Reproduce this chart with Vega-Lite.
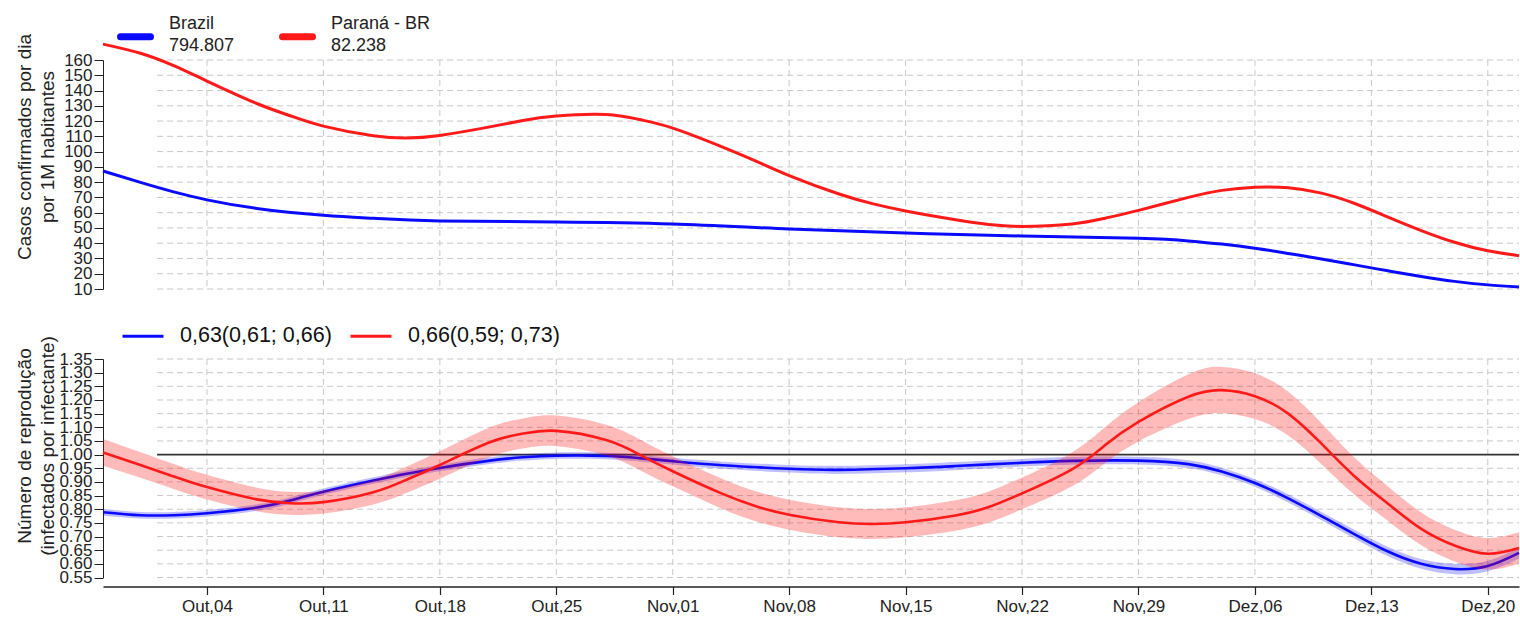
{
  "$schema": "https://vega.github.io/schema/vega-lite/v6.json",
  "background": "white",
  "padding": {"left": 15, "top": 18, "right": 0, "bottom": 0},
  "config": {
    "view": {"stroke": null},
    "font": "Liberation Sans",
    "axis": {"grid": false},
    "axisY": {
      "labelFontSize": 17, "labelColor": "#222",
      "tickSize": 9, "tickColor": "#222", "domainColor": "#222", "labelPadding": 2,
      "titleFontSize": 19, "titleFontWeight": "normal", "titleColor": "#222",
      "titleX": -79, "titleY": 86.5, "titleAngle": 270, "titleAlign": "center", "titleBaseline": "middle",
      "titleLineHeight": 23
    },
    "axisX": {
      "labelPadding": 4, "labelFontSize": 17, "labelColor": "#222",
      "tickColor": "#222", "domainColor": "#222", "labelFlush": false
    }
  },
  "bounds": "flush",
  "spacing": 70,
  "resolve": {"scale": {"color": "independent", "y": "independent"}, "legend": {"color": "independent"}},
  "datasets": {
    "ticks": [
      {"d": "2020-10-04"}, {"d": "2020-10-11"}, {"d": "2020-10-18"}, {"d": "2020-10-25"},
      {"d": "2020-11-01"}, {"d": "2020-11-08"}, {"d": "2020-11-15"}, {"d": "2020-11-22"},
      {"d": "2020-11-29"}, {"d": "2020-12-06"}, {"d": "2020-12-13"}, {"d": "2020-12-20"}
    ],
    "gtop": [
      {"g": 10}, {"g": 20}, {"g": 30}, {"g": 40}, {"g": 50}, {"g": 60}, {"g": 70}, {"g": 80},
      {"g": 90}, {"g": 100}, {"g": 110}, {"g": 120}, {"g": 130}, {"g": 140}, {"g": 150}, {"g": 160}
    ],
    "gbot": [
      {"g": 0.55}, {"g": 0.6}, {"g": 0.65}, {"g": 0.7}, {"g": 0.75}, {"g": 0.8}, {"g": 0.85}, {"g": 0.9},
      {"g": 0.95}, {"g": 1.05}, {"g": 1.1}, {"g": 1.15}, {"g": 1.2}, {"g": 1.25}, {"g": 1.3}, {"g": 1.35}
    ],
    "top": [
      {"date": "2020-09-27T18:00:00Z", "local": "Brazil", "v": 87.3},
      {"date": "2020-09-30", "local": "Brazil", "v": 79.8},
      {"date": "2020-10-02", "local": "Brazil", "v": 73.6},
      {"date": "2020-10-04", "local": "Brazil", "v": 68.4},
      {"date": "2020-10-07", "local": "Brazil", "v": 62.8},
      {"date": "2020-10-11", "local": "Brazil", "v": 58.3},
      {"date": "2020-10-14", "local": "Brazil", "v": 56.3},
      {"date": "2020-10-18", "local": "Brazil", "v": 54.6},
      {"date": "2020-10-25", "local": "Brazil", "v": 53.9},
      {"date": "2020-11-01", "local": "Brazil", "v": 52.6},
      {"date": "2020-11-08", "local": "Brazil", "v": 49.3},
      {"date": "2020-11-15", "local": "Brazil", "v": 46.7},
      {"date": "2020-11-22", "local": "Brazil", "v": 44.7},
      {"date": "2020-11-29", "local": "Brazil", "v": 43.2},
      {"date": "2020-12-02", "local": "Brazil", "v": 41.5},
      {"date": "2020-12-04", "local": "Brazil", "v": 39.4},
      {"date": "2020-12-06", "local": "Brazil", "v": 36.7},
      {"date": "2020-12-08", "local": "Brazil", "v": 33.3},
      {"date": "2020-12-10", "local": "Brazil", "v": 29.7},
      {"date": "2020-12-12", "local": "Brazil", "v": 25.8},
      {"date": "2020-12-14", "local": "Brazil", "v": 21.9},
      {"date": "2020-12-16", "local": "Brazil", "v": 18.2},
      {"date": "2020-12-18", "local": "Brazil", "v": 15},
      {"date": "2020-12-20", "local": "Brazil", "v": 12.7},
      {"date": "2020-12-21T21:00:00Z", "local": "Brazil", "v": 11.3},
      {"date": "2020-09-27T18:00:00Z", "local": "Paraná - BR", "v": 170.4},
      {"date": "2020-09-30", "local": "Paraná - BR", "v": 164.4},
      {"date": "2020-10-02", "local": "Paraná - BR", "v": 156.3},
      {"date": "2020-10-04", "local": "Paraná - BR", "v": 146.2},
      {"date": "2020-10-07", "local": "Paraná - BR", "v": 131.5},
      {"date": "2020-10-09", "local": "Paraná - BR", "v": 123.5},
      {"date": "2020-10-11", "local": "Paraná - BR", "v": 116.7},
      {"date": "2020-10-14", "local": "Paraná - BR", "v": 110.4},
      {"date": "2020-10-16", "local": "Paraná - BR", "v": 108.9},
      {"date": "2020-10-18", "local": "Paraná - BR", "v": 110.6},
      {"date": "2020-10-21", "local": "Paraná - BR", "v": 116.2},
      {"date": "2020-10-23", "local": "Paraná - BR", "v": 120.4},
      {"date": "2020-10-25", "local": "Paraná - BR", "v": 123.3},
      {"date": "2020-10-28", "local": "Paraná - BR", "v": 124.3},
      {"date": "2020-10-30", "local": "Paraná - BR", "v": 121.0},
      {"date": "2020-11-01", "local": "Paraná - BR", "v": 115.4},
      {"date": "2020-11-04", "local": "Paraná - BR", "v": 103},
      {"date": "2020-11-06", "local": "Paraná - BR", "v": 93.8},
      {"date": "2020-11-08", "local": "Paraná - BR", "v": 84.3},
      {"date": "2020-11-11", "local": "Paraná - BR", "v": 72.2},
      {"date": "2020-11-13", "local": "Paraná - BR", "v": 65.9},
      {"date": "2020-11-15", "local": "Paraná - BR", "v": 61.1},
      {"date": "2020-11-18", "local": "Paraná - BR", "v": 55.4},
      {"date": "2020-11-20", "local": "Paraná - BR", "v": 52.3},
      {"date": "2020-11-22", "local": "Paraná - BR", "v": 51},
      {"date": "2020-11-25", "local": "Paraná - BR", "v": 52.6},
      {"date": "2020-11-27", "local": "Paraná - BR", "v": 56.4},
      {"date": "2020-11-29", "local": "Paraná - BR", "v": 61.5},
      {"date": "2020-12-02", "local": "Paraná - BR", "v": 70.0},
      {"date": "2020-12-04", "local": "Paraná - BR", "v": 74.6},
      {"date": "2020-12-06", "local": "Paraná - BR", "v": 76.7},
      {"date": "2020-12-08", "local": "Paraná - BR", "v": 76.3},
      {"date": "2020-12-10", "local": "Paraná - BR", "v": 72.8},
      {"date": "2020-12-12", "local": "Paraná - BR", "v": 66},
      {"date": "2020-12-14", "local": "Paraná - BR", "v": 57.1},
      {"date": "2020-12-16", "local": "Paraná - BR", "v": 48.3},
      {"date": "2020-12-18", "local": "Paraná - BR", "v": 40.6},
      {"date": "2020-12-20", "local": "Paraná - BR", "v": 35.0},
      {"date": "2020-12-21T21:00:00Z", "local": "Paraná - BR", "v": 31.8}
    ],
    "rt": [
      {"date": "2020-09-27T18:00:00Z", "local": "Brazil", "r": 0.789, "lo": 0.776, "hi": 0.802},
      {"date": "2020-09-30", "local": "Brazil", "r": 0.778, "lo": 0.766, "hi": 0.79},
      {"date": "2020-10-02", "local": "Brazil", "r": 0.778, "lo": 0.766, "hi": 0.79},
      {"date": "2020-10-04", "local": "Brazil", "r": 0.785, "lo": 0.773, "hi": 0.797},
      {"date": "2020-10-07", "local": "Brazil", "r": 0.806, "lo": 0.794, "hi": 0.818},
      {"date": "2020-10-09", "local": "Brazil", "r": 0.832, "lo": 0.82, "hi": 0.844},
      {"date": "2020-10-11", "local": "Brazil", "r": 0.864, "lo": 0.852, "hi": 0.876},
      {"date": "2020-10-14", "local": "Brazil", "r": 0.905, "lo": 0.893, "hi": 0.917},
      {"date": "2020-10-16", "local": "Brazil", "r": 0.93, "lo": 0.918, "hi": 0.942},
      {"date": "2020-10-18", "local": "Brazil", "r": 0.951, "lo": 0.939, "hi": 0.963},
      {"date": "2020-10-21", "local": "Brazil", "r": 0.978, "lo": 0.966, "hi": 0.99},
      {"date": "2020-10-23", "local": "Brazil", "r": 0.99, "lo": 0.978, "hi": 1.002},
      {"date": "2020-10-25", "local": "Brazil", "r": 0.996, "lo": 0.984, "hi": 1.008},
      {"date": "2020-10-28", "local": "Brazil", "r": 0.995, "lo": 0.983, "hi": 1.007},
      {"date": "2020-10-30", "local": "Brazil", "r": 0.987, "lo": 0.975, "hi": 0.999},
      {"date": "2020-11-01", "local": "Brazil", "r": 0.976, "lo": 0.964, "hi": 0.988},
      {"date": "2020-11-04", "local": "Brazil", "r": 0.961, "lo": 0.948, "hi": 0.974},
      {"date": "2020-11-08", "local": "Brazil", "r": 0.948, "lo": 0.934, "hi": 0.962},
      {"date": "2020-11-11", "local": "Brazil", "r": 0.944, "lo": 0.929, "hi": 0.959},
      {"date": "2020-11-15", "local": "Brazil", "r": 0.95, "lo": 0.935, "hi": 0.965},
      {"date": "2020-11-18", "local": "Brazil", "r": 0.958, "lo": 0.943, "hi": 0.973},
      {"date": "2020-11-22", "local": "Brazil", "r": 0.97, "lo": 0.956, "hi": 0.984},
      {"date": "2020-11-25", "local": "Brazil", "r": 0.977, "lo": 0.963, "hi": 0.991},
      {"date": "2020-11-29", "local": "Brazil", "r": 0.978, "lo": 0.964, "hi": 0.992},
      {"date": "2020-12-02", "local": "Brazil", "r": 0.965, "lo": 0.951, "hi": 0.979},
      {"date": "2020-12-04", "local": "Brazil", "r": 0.938, "lo": 0.924, "hi": 0.952},
      {"date": "2020-12-06", "local": "Brazil", "r": 0.896, "lo": 0.882, "hi": 0.91},
      {"date": "2020-12-08", "local": "Brazil", "r": 0.84, "lo": 0.825, "hi": 0.855},
      {"date": "2020-12-10", "local": "Brazil", "r": 0.775, "lo": 0.76, "hi": 0.79},
      {"date": "2020-12-12", "local": "Brazil", "r": 0.708, "lo": 0.692, "hi": 0.724},
      {"date": "2020-12-14", "local": "Brazil", "r": 0.645, "lo": 0.628, "hi": 0.662},
      {"date": "2020-12-16", "local": "Brazil", "r": 0.6, "lo": 0.582, "hi": 0.618},
      {"date": "2020-12-18", "local": "Brazil", "r": 0.581, "lo": 0.562, "hi": 0.6},
      {"date": "2020-12-20", "local": "Brazil", "r": 0.592, "lo": 0.573, "hi": 0.611},
      {"date": "2020-12-21T21:00:00Z", "local": "Brazil", "r": 0.64, "lo": 0.62, "hi": 0.66},
      {"date": "2020-09-27T18:00:00Z", "local": "Paraná - BR", "r": 1.008, "lo": 0.959, "hi": 1.057},
      {"date": "2020-09-30", "local": "Paraná - BR", "r": 0.962, "lo": 0.915, "hi": 1.009},
      {"date": "2020-10-02", "local": "Paraná - BR", "r": 0.92, "lo": 0.874, "hi": 0.966},
      {"date": "2020-10-04", "local": "Paraná - BR", "r": 0.881, "lo": 0.836, "hi": 0.926},
      {"date": "2020-10-07", "local": "Paraná - BR", "r": 0.836, "lo": 0.793, "hi": 0.879},
      {"date": "2020-10-09", "local": "Paraná - BR", "r": 0.822, "lo": 0.78, "hi": 0.864},
      {"date": "2020-10-11", "local": "Paraná - BR", "r": 0.826, "lo": 0.784, "hi": 0.868},
      {"date": "2020-10-14", "local": "Paraná - BR", "r": 0.862, "lo": 0.817, "hi": 0.907},
      {"date": "2020-10-16", "local": "Paraná - BR", "r": 0.908, "lo": 0.86, "hi": 0.956},
      {"date": "2020-10-18", "local": "Paraná - BR", "r": 0.962, "lo": 0.912, "hi": 1.012},
      {"date": "2020-10-21", "local": "Paraná - BR", "r": 1.045, "lo": 0.991, "hi": 1.099},
      {"date": "2020-10-23", "local": "Paraná - BR", "r": 1.077, "lo": 1.022, "hi": 1.132},
      {"date": "2020-10-25", "local": "Paraná - BR", "r": 1.087, "lo": 1.031, "hi": 1.143},
      {"date": "2020-10-28", "local": "Paraná - BR", "r": 1.053, "lo": 0.997, "hi": 1.109},
      {"date": "2020-10-30", "local": "Paraná - BR", "r": 1.0, "lo": 0.944, "hi": 1.056},
      {"date": "2020-11-01", "local": "Paraná - BR", "r": 0.939, "lo": 0.884, "hi": 0.994},
      {"date": "2020-11-04", "local": "Paraná - BR", "r": 0.856, "lo": 0.801, "hi": 0.911},
      {"date": "2020-11-06", "local": "Paraná - BR", "r": 0.811, "lo": 0.756, "hi": 0.866},
      {"date": "2020-11-08", "local": "Paraná - BR", "r": 0.78, "lo": 0.725, "hi": 0.835},
      {"date": "2020-11-11", "local": "Paraná - BR", "r": 0.752, "lo": 0.697, "hi": 0.807},
      {"date": "2020-11-13", "local": "Paraná - BR", "r": 0.746, "lo": 0.691, "hi": 0.801},
      {"date": "2020-11-15", "local": "Paraná - BR", "r": 0.752, "lo": 0.697, "hi": 0.807},
      {"date": "2020-11-18", "local": "Paraná - BR", "r": 0.777, "lo": 0.721, "hi": 0.833},
      {"date": "2020-11-20", "local": "Paraná - BR", "r": 0.808, "lo": 0.751, "hi": 0.865},
      {"date": "2020-11-22", "local": "Paraná - BR", "r": 0.858, "lo": 0.8, "hi": 0.916},
      {"date": "2020-11-25", "local": "Paraná - BR", "r": 0.946, "lo": 0.884, "hi": 1.008},
      {"date": "2020-11-27", "local": "Paraná - BR", "r": 1.035, "lo": 0.969, "hi": 1.101},
      {"date": "2020-11-29", "local": "Paraná - BR", "r": 1.12, "lo": 1.048, "hi": 1.192},
      {"date": "2020-12-02", "local": "Paraná - BR", "r": 1.212, "lo": 1.13, "hi": 1.294},
      {"date": "2020-12-04", "local": "Paraná - BR", "r": 1.236, "lo": 1.151, "hi": 1.321},
      {"date": "2020-12-06", "local": "Paraná - BR", "r": 1.214, "lo": 1.13, "hi": 1.298},
      {"date": "2020-12-08", "local": "Paraná - BR", "r": 1.15, "lo": 1.07, "hi": 1.23},
      {"date": "2020-12-10", "local": "Paraná - BR", "r": 1.04, "lo": 0.965, "hi": 1.115},
      {"date": "2020-12-12", "local": "Paraná - BR", "r": 0.92, "lo": 0.852, "hi": 0.988},
      {"date": "2020-12-14", "local": "Paraná - BR", "r": 0.82, "lo": 0.757, "hi": 0.883},
      {"date": "2020-12-16", "local": "Paraná - BR", "r": 0.728, "lo": 0.668, "hi": 0.788},
      {"date": "2020-12-18", "local": "Paraná - BR", "r": 0.667, "lo": 0.609, "hi": 0.725},
      {"date": "2020-12-20", "local": "Paraná - BR", "r": 0.637, "lo": 0.579, "hi": 0.695},
      {"date": "2020-12-21T21:00:00Z", "local": "Paraná - BR", "r": 0.658, "lo": 0.6, "hi": 0.716}
    ]
  },
  "vconcat": [
    {
      "width": 1416,
      "height": 229,
      "layer": [
        {
          "data": {"name": "ticks"},
          "mark": {"type": "rule", "color": "#c8c8c8", "strokeDash": [6, 4], "strokeWidth": 1},
          "encoding": {
            "x": {"field": "d", "type": "temporal", "axis": null,
              "scale": {"type": "utc", "nice": false, "domain": [{"year": 2020, "month": 9, "date": 27, "hours": 18, "utc": true}, {"year": 2020, "month": 12, "date": 21, "hours": 21, "utc": true}]}}
          }
        },
        {
          "data": {"name": "gtop"},
          "mark": {"type": "rule", "color": "#c8c8c8", "strokeDash": [6, 4], "strokeWidth": 1},
          "encoding": {
            "y": {"field": "g", "type": "quantitative",
              "scale": {"domain": [10, 160], "nice": false, "zero": false},
              "axis": {
                "title": ["Casos confirmados por dia", "por 1M habitantes"],
                "values": [10, 20, 30, 40, 50, 60, 70, 80, 90, 100, 110, 120, 130, 140, 150, 160],
                "format": "d", "labelOverlap": false, "ticks": true, "domain": true, "tickSize": 9, "tickWidth": 1, "domainWidth": 1, "tickColor": "#222", "domainColor": "#222", "labelFontSize": 17, "labelPadding": 2
              }},
            "x": {"datum": {"year": 2020, "month": 10, "date": 1, "utc": true}, "type": "temporal", "axis": null},
            "x2": {"datum": {"year": 2020, "month": 12, "date": 21, "hours": 21, "utc": true}}
          }
        },
        {
          "data": {"name": "top"},
          "mark": {"type": "line", "strokeWidth": 3, "interpolate": "natural", "clip": false},
          "encoding": {
            "x": {"field": "date", "type": "temporal", "axis": null},
            "y": {"field": "v", "type": "quantitative",
              "axis": {
                "title": ["Casos confirmados por dia", "por 1M habitantes"],
                "values": [10, 20, 30, 40, 50, 60, 70, 80, 90, 100, 110, 120, 130, 140, 150, 160],
                "format": "d", "labelOverlap": false, "ticks": true, "domain": true, "tickSize": 9, "tickWidth": 1, "domainWidth": 1, "tickColor": "#222", "domainColor": "#222", "labelFontSize": 17, "labelPadding": 2
              }},
            "color": {"field": "local", "type": "nominal",
              "scale": {"domain": ["Brazil", "Paraná - BR"], "range": ["#0a0aff", "#ff1a1a"]},
              "legend": {
                "title": null, "orient": "none", "legendX": 14, "legendY": -42, "direction": "horizontal",
                "symbolType": "stroke", "symbolSize": 900, "symbolStrokeWidth": 7,
                "labelFontSize": 18, "labelColor": "#222", "labelOffset": 15, "columnPadding": 33,
                "labelExpr": "datum.label == 'Brazil' ? ['Brazil', '794.807'] : ['Paraná - BR', ' 82.238']",
                "encoding": {"symbols": {"strokeCap": {"value": "round"}}, "labels": {"lineHeight": {"value": 22}, "dy": {"value": -13}}}
              }}
          }
        }
      ]
    },
    {
      "width": 1416,
      "height": 218.5,
      "layer": [
        {
          "data": {"name": "ticks"},
          "mark": {"type": "rule", "color": "#c8c8c8", "strokeDash": [6, 4], "strokeWidth": 1},
          "encoding": {
            "x": {"field": "d", "type": "temporal",
              "scale": {"type": "utc", "nice": false, "domain": [{"year": 2020, "month": 9, "date": 27, "hours": 18, "utc": true}, {"year": 2020, "month": 12, "date": 21, "hours": 21, "utc": true}]},
              "axis": {"title": null, "offset": 9, "ticks": true, "domain": true, "tickSize": 8, "tickWidth": 1.2, "tickColor": "#222", "domainColor": "#222", "domainWidth": 1.3, "labelOverlap": false, "labelFontSize": 17, "labelPadding": 4, "values": [{"year": 2020, "month": 10, "date": 4, "utc": true}, {"year": 2020, "month": 10, "date": 11, "utc": true}, {"year": 2020, "month": 10, "date": 18, "utc": true}, {"year": 2020, "month": 10, "date": 25, "utc": true}, {"year": 2020, "month": 11, "date": 1, "utc": true}, {"year": 2020, "month": 11, "date": 8, "utc": true}, {"year": 2020, "month": 11, "date": 15, "utc": true}, {"year": 2020, "month": 11, "date": 22, "utc": true}, {"year": 2020, "month": 11, "date": 29, "utc": true}, {"year": 2020, "month": 12, "date": 6, "utc": true}, {"year": 2020, "month": 12, "date": 13, "utc": true}, {"year": 2020, "month": 12, "date": 20, "utc": true}], "labelExpr": "['Jan','Fev','Mar','Abr','Mai','Jun','Jul','Ago','Set','Out','Nov','Dez'][utcmonth(datum.value)] + ',' + utcFormat(datum.value, '%d')"}}
          }
        },
        {
          "data": {"name": "gbot"},
          "mark": {"type": "rule", "color": "#c8c8c8", "strokeDash": [6, 4], "strokeWidth": 1},
          "encoding": {
            "y": {"field": "g", "type": "quantitative",
              "scale": {"domain": [0.55, 1.35], "nice": false, "zero": false},
              "axis": {"title": ["Número de reprodução", "(infectados por infectante)"], "values": [0.55, 0.6, 0.65, 0.7, 0.75, 0.8, 0.85, 0.9, 0.95, 1.0, 1.05, 1.1, 1.15, 1.2, 1.25, 1.3, 1.35], "format": ".2f", "labelOverlap": false, "ticks": true, "domain": true, "tickSize": 9, "tickWidth": 1, "domainWidth": 1, "tickColor": "#222", "domainColor": "#222", "labelFontSize": 17, "labelPadding": 2}},
            "x": {"datum": {"year": 2020, "month": 10, "date": 1, "utc": true}, "type": "temporal",
              "axis": {"title": null, "offset": 9, "ticks": true, "domain": true, "tickSize": 8, "tickWidth": 1.2, "tickColor": "#222", "domainColor": "#222", "domainWidth": 1.3, "labelOverlap": false, "labelFontSize": 17, "labelPadding": 4, "values": [{"year": 2020, "month": 10, "date": 4, "utc": true}, {"year": 2020, "month": 10, "date": 11, "utc": true}, {"year": 2020, "month": 10, "date": 18, "utc": true}, {"year": 2020, "month": 10, "date": 25, "utc": true}, {"year": 2020, "month": 11, "date": 1, "utc": true}, {"year": 2020, "month": 11, "date": 8, "utc": true}, {"year": 2020, "month": 11, "date": 15, "utc": true}, {"year": 2020, "month": 11, "date": 22, "utc": true}, {"year": 2020, "month": 11, "date": 29, "utc": true}, {"year": 2020, "month": 12, "date": 6, "utc": true}, {"year": 2020, "month": 12, "date": 13, "utc": true}, {"year": 2020, "month": 12, "date": 20, "utc": true}], "labelExpr": "['Jan','Fev','Mar','Abr','Mai','Jun','Jul','Ago','Set','Out','Nov','Dez'][utcmonth(datum.value)] + ',' + utcFormat(datum.value, '%d')"}},
            "x2": {"datum": {"year": 2020, "month": 12, "date": 21, "hours": 21, "utc": true}}
          }
        },
        {
          "data": {"values": [{"ref": 1}]},
          "mark": {"type": "rule", "color": "#333", "strokeWidth": 1.6},
          "encoding": {
            "y": {"field": "ref", "type": "quantitative",
              "axis": {"title": ["Número de reprodução", "(infectados por infectante)"], "values": [0.55, 0.6, 0.65, 0.7, 0.75, 0.8, 0.85, 0.9, 0.95, 1.0, 1.05, 1.1, 1.15, 1.2, 1.25, 1.3, 1.35], "format": ".2f", "labelOverlap": false, "ticks": true, "domain": true, "tickSize": 9, "tickWidth": 1, "domainWidth": 1, "tickColor": "#222", "domainColor": "#222", "labelFontSize": 17, "labelPadding": 2}},
            "x": {"datum": {"year": 2020, "month": 10, "date": 1, "utc": true}, "type": "temporal",
              "axis": {"title": null, "offset": 9, "ticks": true, "domain": true, "tickSize": 8, "tickWidth": 1.2, "tickColor": "#222", "domainColor": "#222", "domainWidth": 1.3, "labelOverlap": false, "labelFontSize": 17, "labelPadding": 4, "values": [{"year": 2020, "month": 10, "date": 4, "utc": true}, {"year": 2020, "month": 10, "date": 11, "utc": true}, {"year": 2020, "month": 10, "date": 18, "utc": true}, {"year": 2020, "month": 10, "date": 25, "utc": true}, {"year": 2020, "month": 11, "date": 1, "utc": true}, {"year": 2020, "month": 11, "date": 8, "utc": true}, {"year": 2020, "month": 11, "date": 15, "utc": true}, {"year": 2020, "month": 11, "date": 22, "utc": true}, {"year": 2020, "month": 11, "date": 29, "utc": true}, {"year": 2020, "month": 12, "date": 6, "utc": true}, {"year": 2020, "month": 12, "date": 13, "utc": true}, {"year": 2020, "month": 12, "date": 20, "utc": true}], "labelExpr": "['Jan','Fev','Mar','Abr','Mai','Jun','Jul','Ago','Set','Out','Nov','Dez'][utcmonth(datum.value)] + ',' + utcFormat(datum.value, '%d')"}},
            "x2": {"datum": {"year": 2020, "month": 12, "date": 21, "hours": 21, "utc": true}}
          }
        },
        {
          "data": {"name": "rt"},
          "transform": [{"filter": "datum.local == 'Brazil'"}],
          "mark": {"type": "area", "interpolate": "natural", "fill": "#0000ff", "fillOpacity": 0.25},
          "encoding": {
            "x": {"field": "date", "type": "temporal",
              "axis": {"title": null, "offset": 9, "ticks": true, "domain": true, "tickSize": 8, "tickWidth": 1.2, "tickColor": "#222", "domainColor": "#222", "domainWidth": 1.3, "labelOverlap": false, "labelFontSize": 17, "labelPadding": 4, "values": [{"year": 2020, "month": 10, "date": 4, "utc": true}, {"year": 2020, "month": 10, "date": 11, "utc": true}, {"year": 2020, "month": 10, "date": 18, "utc": true}, {"year": 2020, "month": 10, "date": 25, "utc": true}, {"year": 2020, "month": 11, "date": 1, "utc": true}, {"year": 2020, "month": 11, "date": 8, "utc": true}, {"year": 2020, "month": 11, "date": 15, "utc": true}, {"year": 2020, "month": 11, "date": 22, "utc": true}, {"year": 2020, "month": 11, "date": 29, "utc": true}, {"year": 2020, "month": 12, "date": 6, "utc": true}, {"year": 2020, "month": 12, "date": 13, "utc": true}, {"year": 2020, "month": 12, "date": 20, "utc": true}], "labelExpr": "['Jan','Fev','Mar','Abr','Mai','Jun','Jul','Ago','Set','Out','Nov','Dez'][utcmonth(datum.value)] + ',' + utcFormat(datum.value, '%d')"}},
            "y": {"field": "lo", "type": "quantitative",
              "axis": {"title": ["Número de reprodução", "(infectados por infectante)"], "values": [0.55, 0.6, 0.65, 0.7, 0.75, 0.8, 0.85, 0.9, 0.95, 1.0, 1.05, 1.1, 1.15, 1.2, 1.25, 1.3, 1.35], "format": ".2f", "labelOverlap": false, "ticks": true, "domain": true, "tickSize": 9, "tickWidth": 1, "domainWidth": 1, "tickColor": "#222", "domainColor": "#222", "labelFontSize": 17, "labelPadding": 2}},
            "y2": {"field": "hi"}
          }
        },
        {
          "data": {"name": "rt"},
          "transform": [{"filter": "datum.local == 'Brazil'"}],
          "mark": {"type": "line", "interpolate": "natural", "strokeWidth": 2.6},
          "encoding": {
            "x": {"field": "date", "type": "temporal",
              "axis": {"title": null, "offset": 9, "ticks": true, "domain": true, "tickSize": 8, "tickWidth": 1.2, "tickColor": "#222", "domainColor": "#222", "domainWidth": 1.3, "labelOverlap": false, "labelFontSize": 17, "labelPadding": 4, "values": [{"year": 2020, "month": 10, "date": 4, "utc": true}, {"year": 2020, "month": 10, "date": 11, "utc": true}, {"year": 2020, "month": 10, "date": 18, "utc": true}, {"year": 2020, "month": 10, "date": 25, "utc": true}, {"year": 2020, "month": 11, "date": 1, "utc": true}, {"year": 2020, "month": 11, "date": 8, "utc": true}, {"year": 2020, "month": 11, "date": 15, "utc": true}, {"year": 2020, "month": 11, "date": 22, "utc": true}, {"year": 2020, "month": 11, "date": 29, "utc": true}, {"year": 2020, "month": 12, "date": 6, "utc": true}, {"year": 2020, "month": 12, "date": 13, "utc": true}, {"year": 2020, "month": 12, "date": 20, "utc": true}], "labelExpr": "['Jan','Fev','Mar','Abr','Mai','Jun','Jul','Ago','Set','Out','Nov','Dez'][utcmonth(datum.value)] + ',' + utcFormat(datum.value, '%d')"}},
            "y": {"field": "r", "type": "quantitative",
              "axis": {"title": ["Número de reprodução", "(infectados por infectante)"], "values": [0.55, 0.6, 0.65, 0.7, 0.75, 0.8, 0.85, 0.9, 0.95, 1.0, 1.05, 1.1, 1.15, 1.2, 1.25, 1.3, 1.35], "format": ".2f", "labelOverlap": false, "ticks": true, "domain": true, "tickSize": 9, "tickWidth": 1, "domainWidth": 1, "tickColor": "#222", "domainColor": "#222", "labelFontSize": 17, "labelPadding": 2}},
            "color": {"field": "local", "type": "nominal",
              "scale": {"domain": ["Brazil", "Paraná - BR"], "range": ["#0a0aff", "#ff1a1a"]},
              "legend": {
                "title": null, "orient": "none", "legendX": 18, "legendY": -45, "direction": "horizontal",
                "symbolType": "stroke", "symbolSize": 1681, "symbolStrokeWidth": 3,
                "labelFontSize": 21.5, "labelColor": "#111", "labelOffset": 15, "columnPadding": 12,
                "labelExpr": "datum.label == 'Brazil' ? '0,63(0,61; 0,66)' : '0,66(0,59; 0,73)'"
              }}
          }
        },
        {
          "data": {"name": "rt"},
          "transform": [{"filter": "datum.local == 'Paraná - BR'"}],
          "mark": {"type": "area", "interpolate": "natural", "fill": "#ff0000", "fillOpacity": 0.27},
          "encoding": {
            "x": {"field": "date", "type": "temporal",
              "axis": {"title": null, "offset": 9, "ticks": true, "domain": true, "tickSize": 8, "tickWidth": 1.2, "tickColor": "#222", "domainColor": "#222", "domainWidth": 1.3, "labelOverlap": false, "labelFontSize": 17, "labelPadding": 4, "values": [{"year": 2020, "month": 10, "date": 4, "utc": true}, {"year": 2020, "month": 10, "date": 11, "utc": true}, {"year": 2020, "month": 10, "date": 18, "utc": true}, {"year": 2020, "month": 10, "date": 25, "utc": true}, {"year": 2020, "month": 11, "date": 1, "utc": true}, {"year": 2020, "month": 11, "date": 8, "utc": true}, {"year": 2020, "month": 11, "date": 15, "utc": true}, {"year": 2020, "month": 11, "date": 22, "utc": true}, {"year": 2020, "month": 11, "date": 29, "utc": true}, {"year": 2020, "month": 12, "date": 6, "utc": true}, {"year": 2020, "month": 12, "date": 13, "utc": true}, {"year": 2020, "month": 12, "date": 20, "utc": true}], "labelExpr": "['Jan','Fev','Mar','Abr','Mai','Jun','Jul','Ago','Set','Out','Nov','Dez'][utcmonth(datum.value)] + ',' + utcFormat(datum.value, '%d')"}},
            "y": {"field": "lo", "type": "quantitative",
              "axis": {"title": ["Número de reprodução", "(infectados por infectante)"], "values": [0.55, 0.6, 0.65, 0.7, 0.75, 0.8, 0.85, 0.9, 0.95, 1.0, 1.05, 1.1, 1.15, 1.2, 1.25, 1.3, 1.35], "format": ".2f", "labelOverlap": false, "ticks": true, "domain": true, "tickSize": 9, "tickWidth": 1, "domainWidth": 1, "tickColor": "#222", "domainColor": "#222", "labelFontSize": 17, "labelPadding": 2}},
            "y2": {"field": "hi"}
          }
        },
        {
          "data": {"name": "rt"},
          "transform": [{"filter": "datum.local == 'Paraná - BR'"}],
          "mark": {"type": "line", "interpolate": "natural", "strokeWidth": 2.6},
          "encoding": {
            "x": {"field": "date", "type": "temporal",
              "axis": {"title": null, "offset": 9, "ticks": true, "domain": true, "tickSize": 8, "tickWidth": 1.2, "tickColor": "#222", "domainColor": "#222", "domainWidth": 1.3, "labelOverlap": false, "labelFontSize": 17, "labelPadding": 4, "values": [{"year": 2020, "month": 10, "date": 4, "utc": true}, {"year": 2020, "month": 10, "date": 11, "utc": true}, {"year": 2020, "month": 10, "date": 18, "utc": true}, {"year": 2020, "month": 10, "date": 25, "utc": true}, {"year": 2020, "month": 11, "date": 1, "utc": true}, {"year": 2020, "month": 11, "date": 8, "utc": true}, {"year": 2020, "month": 11, "date": 15, "utc": true}, {"year": 2020, "month": 11, "date": 22, "utc": true}, {"year": 2020, "month": 11, "date": 29, "utc": true}, {"year": 2020, "month": 12, "date": 6, "utc": true}, {"year": 2020, "month": 12, "date": 13, "utc": true}, {"year": 2020, "month": 12, "date": 20, "utc": true}], "labelExpr": "['Jan','Fev','Mar','Abr','Mai','Jun','Jul','Ago','Set','Out','Nov','Dez'][utcmonth(datum.value)] + ',' + utcFormat(datum.value, '%d')"}},
            "y": {"field": "r", "type": "quantitative",
              "axis": {"title": ["Número de reprodução", "(infectados por infectante)"], "values": [0.55, 0.6, 0.65, 0.7, 0.75, 0.8, 0.85, 0.9, 0.95, 1.0, 1.05, 1.1, 1.15, 1.2, 1.25, 1.3, 1.35], "format": ".2f", "labelOverlap": false, "ticks": true, "domain": true, "tickSize": 9, "tickWidth": 1, "domainWidth": 1, "tickColor": "#222", "domainColor": "#222", "labelFontSize": 17, "labelPadding": 2}},
            "color": {"field": "local", "type": "nominal"}
          }
        }
      ]
    }
  ]
}
